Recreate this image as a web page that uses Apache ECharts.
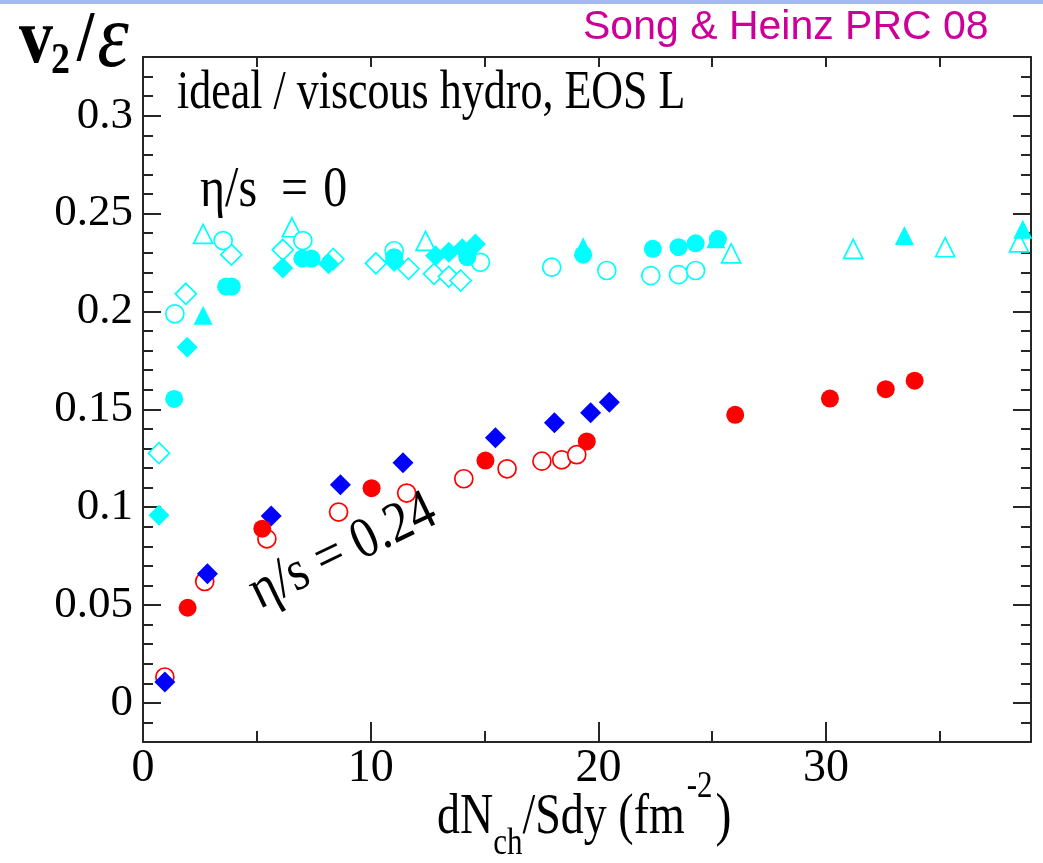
<!DOCTYPE html>
<html>
<head>
<meta charset="utf-8">
<script src="https://cdn.jsdelivr.net/npm/echarts@6/dist/echarts.min.js"></script>
<style>
  html, body { margin: 0; padding: 0; background: #fff; }
  #chart { width: 1043px; height: 863px; }
</style>
</head>
<body>
<div id="chart"></div>
<script>
// v2/eps versus dN_ch/(S dy): ideal (eta/s = 0, cyan) and viscous (eta/s = 0.24, red/blue) hydro

// ideal hydro, eta/s = 0
const cyanOpenTriangles = [[2.64,0.2396],[6.54,0.2430],[12.41,0.2360],[25.83,0.2297],[31.19,0.2320],[35.23,0.2328],[38.47,0.2353]];
const cyanFilledTriangles = [[2.64,0.1980],[19.33,0.2330],[25.16,0.2371],[33.44,0.2388],[38.64,0.2420]];
const cyanOpenCircles = [[1.40,0.1988],[3.52,0.2362],[7.02,0.2362],[11.03,0.2310],[14.82,0.2251],[17.95,0.2226],[20.37,0.2209],[22.30,0.2183],[23.52,0.2188],[24.27,0.2209]];
const cyanFilledCircles = [[1.37,0.1553],[3.65,0.2127],[3.90,0.2127],[7.00,0.2270],[7.40,0.2270],[11.03,0.2277],[14.24,0.2277],[19.33,0.2290],[22.39,0.2320],[23.52,0.2328],[24.27,0.2348],[25.25,0.2370]];
const cyanOpenDiamonds = [[0.70,0.1276],[1.88,0.2090],[3.88,0.2290],[6.14,0.2315],[8.36,0.2268],[10.23,0.2246],[11.66,0.2218],[12.78,0.2192],[13.43,0.2178],[13.95,0.2158]];
const cyanFilledDiamonds = [[0.70,0.0958],[1.94,0.1817],[6.14,0.2222],[8.15,0.2243],[11.03,0.2255],[12.85,0.2285],[13.43,0.2302],[14.02,0.2320],[14.60,0.2345]];

// viscous hydro, eta/s = 0.24
const redOpenCircles = [[0.96,0.0132],[2.71,0.0620],[5.44,0.0838],[8.59,0.0975],[11.58,0.1072],[14.09,0.1145],[15.99,0.1196],[17.52,0.1235],[18.39,0.1242],[19.05,0.1268]];
const blueDiamonds = [[0.96,0.0106],[2.83,0.0660],[5.63,0.0955],[8.67,0.1114],[11.42,0.1227],[15.48,0.1354],[18.07,0.1431],[19.66,0.1482],[20.48,0.1536]];
const redFilledCircles = [[1.96,0.0486],[5.24,0.0890],[10.04,0.1097],[15.04,0.1238],[19.49,0.1336],[26.01,0.1472],[30.17,0.1555],[32.62,0.1603],[33.89,0.1646]];

// axes
const X_MIN = 0, X_MAX = 39;
const Y_MIN = -0.02, Y_MAX = 0.33;
const xMajorTicks = [0, 10, 20, 30];
const xTickLabels = ['0', '10', '20', '30'];
const xMinorTicks = [5, 15, 25, 35];
const xTopTicks = [5, 10, 15, 20, 25, 30, 35];
const yMajorTicks = [0, 0.05, 0.1, 0.15, 0.2, 0.25, 0.3];
const yTickLabels = ['0', '0.05', '0.1', '0.15', '0.2', '0.25', '0.3'];
const yMinorTicks = [-0.01, 0.01, 0.02, 0.03, 0.04, 0.06, 0.07, 0.08, 0.09, 0.11, 0.12, 0.13, 0.14,
                     0.16, 0.17, 0.18, 0.19, 0.21, 0.22, 0.23, 0.24, 0.26, 0.27, 0.28, 0.29, 0.31, 0.32];

const SERIF = '"Liberation Serif", "Times New Roman", serif';
const SANS = '"Liberation Sans", Arial, sans-serif';
const CYAN = '#00ffff', RED = '#ff0000', BLUE = '#0000ff';
const FRAME = '#262626';

const chart = echarts.init(document.getElementById('chart'), null, { renderer: 'canvas' });

function scatter(name, data, symbol, size, color, open) {
  return {
    name, type: 'scatter', data, symbol, symbolSize: size,
    xAxisIndex: 0, yAxisIndex: 0,
    itemStyle: open ? { color: '#ffffff', borderColor: color, borderWidth: 1.7, opacity: 1 }
                    : { color: color, borderWidth: 0, opacity: 1 },
    emphasis: { disabled: true },
    silent: true
  };
}

function yTickMap(v) {
  const i = yMajorTicks.findIndex(t => Math.abs(t - v) < 1e-9);
  return i >= 0 ? yTickLabels[i] : '';
}
function xTickMap(v) {
  const i = xMajorTicks.findIndex(t => Math.abs(t - v) < 1e-9);
  return i >= 0 ? xTickLabels[i] : '';
}

function xAxisDef(position, ticks, len, showLine, labels) {
  return {
    type: 'value', position, min: X_MIN, max: X_MAX, gridIndex: 0,
    axisLine: { show: showLine, onZero: false, lineStyle: { color: FRAME, width: 2 } },
    axisTick: { show: true, inside: true, length: len, customValues: ticks, lineStyle: { color: FRAME, width: 2 } },
    axisLabel: labels ? { show: true, customValues: xMajorTicks, formatter: xTickMap, margin: 4,
                          fontFamily: SERIF, fontSize: 46, color: '#000' } : { show: false },
    splitLine: { show: false }, minorTick: { show: false }
  };
}
function yAxisDef(position, ticks, len, showLine, labels) {
  return {
    type: 'value', position, min: Y_MIN, max: Y_MAX, gridIndex: 0,
    axisLine: { show: showLine, onZero: false, lineStyle: { color: FRAME, width: 2 } },
    axisTick: { show: true, inside: true, length: len, customValues: ticks, lineStyle: { color: FRAME, width: 2 } },
    axisLabel: labels ? { show: true, customValues: yMajorTicks, formatter: yTickMap, margin: 10,
                          fontFamily: SERIF, fontSize: 45, color: '#000' } : { show: false },
    splitLine: { show: false }, minorTick: { show: false }
  };
}

// text helpers for the annotations
const measureCtx = document.createElement('canvas').getContext('2d');
function widthOf(str, font) { measureCtx.font = font; return measureCtx.measureText(str).width; }
function fontStr(p) {
  return (p.style || 'normal') + ' ' + (p.weight || 'normal') + ' ' + p.size + 'px ' + (p.family || SERIF);
}
function textRun(x, y, pieces, sy) {
  const out = [];
  let cx = x;
  pieces.forEach(p => {
    const font = fontStr(p);
    cx += (p.dx || 0);
    out.push({
      type: 'text', x: cx, y: y + (p.dy || 0), scaleY: sy, silent: true, z: 100,
      style: { text: p.text, font, fill: p.fill || '#000', textAlign: 'left', textVerticalAlign: 'middle' }
    });
    cx += widthOf(p.text, font);
  });
  return out;
}

const graphics = [].concat(
  // top strip
  [{ type: 'rect', shape: { x: 0, y: 0, width: 1043, height: 4 }, style: { fill: '#a4b9f3' }, silent: true, z: 100 }],
  // v2 / epsilon
  textRun(19, 42, [
    { text: 'v', size: 68, weight: 'bold' },
    { text: '2', size: 38, weight: 'bold', dy: 20, dx: -2 },
    { text: '/', size: 62, weight: 'bold', dx: 7 },
    { text: '\u03B5', size: 80, style: 'italic', dx: 3 }
  ], 1.15),
  // reference tag
  textRun(583, 28, [{ text: 'Song & Heinz PRC 08', size: 41, family: SANS, fill: '#cc0099' }], 1),
  // model description
  textRun(177, 94, [{ text: 'ideal / viscous hydro, EOS L', size: 44 }], 1.25),
  // eta/s = 0
  textRun(200, 191, [
    { text: '\u03B7/s', size: 48 },
    { text: '=', size: 48, dx: 24 },
    { text: '0', size: 48, dx: 15 }
  ], 1.2),
  // eta/s = 0.24 (rotated along the viscous points)
  [{
    type: 'text', x: 343, y: 552, rotation: 0.45, scaleY: 1.15, silent: true, z: 100,
    style: { text: '\u03B7/s = 0.24', font: 'normal normal 50px ' + SERIF, fill: '#000',
             textAlign: 'center', textVerticalAlign: 'middle' }
  }],
  // x-axis title dN_ch/Sdy (fm^-2)
  textRun(437, 818, [
    { text: 'dN', size: 46 },
    { text: 'ch', size: 31, dy: 26 },
    { text: '/Sdy (fm', size: 46 },
    { text: '-2', size: 31, dy: -31, dx: 2 },
    { text: ')', size: 48, dx: 3 }
  ], 1.25)
);

const option = {
  animation: false,
  backgroundColor: '#ffffff',
  grid: { left: 143, right: 12, top: 57, bottom: 121, containLabel: false },
  xAxis: [
    xAxisDef('bottom', xMajorTicks, 20, true, true),
    xAxisDef('bottom', xMinorTicks, 11, false, false),
    xAxisDef('top', xTopTicks, 10, true, false)
  ],
  yAxis: [
    yAxisDef('left', yMajorTicks, 18, true, true),
    yAxisDef('left', yMinorTicks, 10, false, false),
    yAxisDef('right', yMajorTicks, 18, true, false),
    yAxisDef('right', yMinorTicks, 10, false, false)
  ],
  series: [
    scatter('ideal open triangles', cyanOpenTriangles, 'triangle', 19, CYAN, true),
    scatter('ideal open diamonds', cyanOpenDiamonds, 'diamond', 21, CYAN, true),
    scatter('ideal open circles', cyanOpenCircles, 'circle', 18, CYAN, true),
    scatter('ideal filled diamonds', cyanFilledDiamonds, 'diamond', 21, CYAN, false),
    scatter('ideal filled circles', cyanFilledCircles, 'circle', 18, CYAN, false),
    scatter('ideal filled triangles', cyanFilledTriangles, 'triangle', 19, CYAN, false),
    scatter('viscous open circles', redOpenCircles, 'circle', 18, RED, true),
    scatter('viscous diamonds', blueDiamonds, 'diamond', 21, BLUE, false),
    scatter('viscous filled circles', redFilledCircles, 'circle', 18, RED, false)
  ],
  graphic: graphics
};

chart.setOption(option);
</script>
</body>
</html>
